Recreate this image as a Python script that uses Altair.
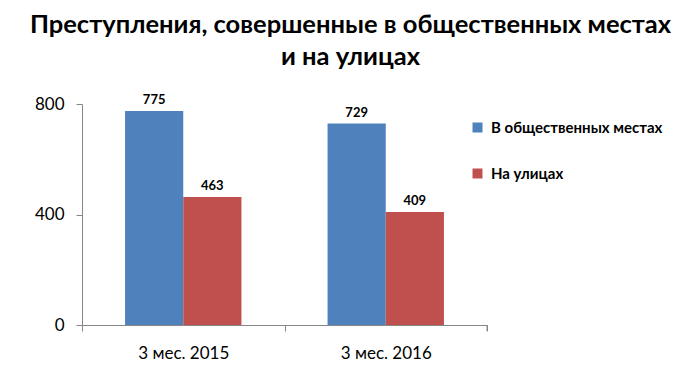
import altair as alt
import pandas as pd

periods = ["3 мес. 2015", "3 мес. 2016"]
series = ["В общественных местах", "На улицах"]
public_places = [775, 729]
streets = [463, 409]
colors = ["#4F81BD", "#C0504D"]
y_ticks = [0, 400, 800]

rows = []
for i, p in enumerate(periods):
    rows.append({"period": p, "series": series[0], "value": public_places[i]})
    rows.append({"period": p, "series": series[1], "value": streets[i]})
df = pd.DataFrame(rows)

FONT = "Lato"

x = alt.X("period:N", sort=periods, title=None,
          scale=alt.Scale(paddingInner=0, paddingOuter=0),
          axis=alt.Axis(labelAngle=0, labelFontSize=17, labelColor="#000000",
                        labelFont=FONT, tickBand="extent", tickSize=6,
                        tickColor="#868686", domainColor="#868686",
                        labelPadding=14))
xo = alt.XOffset("series:N", sort=series,
                 scale=alt.Scale(paddingOuter=0.74, paddingInner=0))
y = alt.Y("value:Q", title=None,
          scale=alt.Scale(domain=[0, 800]),
          axis=alt.Axis(values=y_ticks, grid=False, labelFontSize=17,
                        labelColor="#000000", labelFont=FONT, tickSize=6,
                        tickColor="#868686", domainColor="#868686",
                        labelPadding=12))

color = alt.Color("series:N", sort=series,
                  scale=alt.Scale(domain=series, range=colors),
                  legend=alt.Legend(title=None, orient="none", legendX=388,
                                    legendY=16, symbolType="square",
                                    symbolSize=100, symbolStrokeWidth=0,
                                    labelFontSize=15, labelFontWeight="bold",
                                    labelFont=FONT, labelColor="#000000",
                                    labelLimit=400,
                                    rowPadding=30, labelOffset=6))

base = alt.Chart(df)
bars = base.mark_bar().encode(x=x, xOffset=xo, y=y, color=color)
labels = base.mark_text(dy=-11, fontSize=13, fontWeight="bold",
                        font=FONT, color="#000000").encode(
    x=alt.X("period:N", sort=periods), xOffset=xo, y="value:Q",
    text="value:Q")

end_tick = alt.Chart(pd.DataFrame({"v": [0]})).mark_rule(
    color="#868686").encode(x=alt.value(405), y=alt.value(221),
                            y2=alt.value(227))

chart = alt.layer(bars, labels, end_tick).properties(
    width=405, height=221,
    autosize=alt.AutoSizeParams(type="none"),
    padding={"left": 74, "top": 96, "right": 205, "bottom": 59},
    title=alt.TitleParams(
        text=["Преступления, совершенные в общественных местах",
              "и на улицах"],
        fontSize=25.5, fontWeight="bold", font=FONT, color="#000000",
        anchor="middle", dx=66, lineHeight=32, offset=23),
).configure_view(stroke=None)

chart.save("out.html", embed_options={"renderer": "svg", "actions": False})
